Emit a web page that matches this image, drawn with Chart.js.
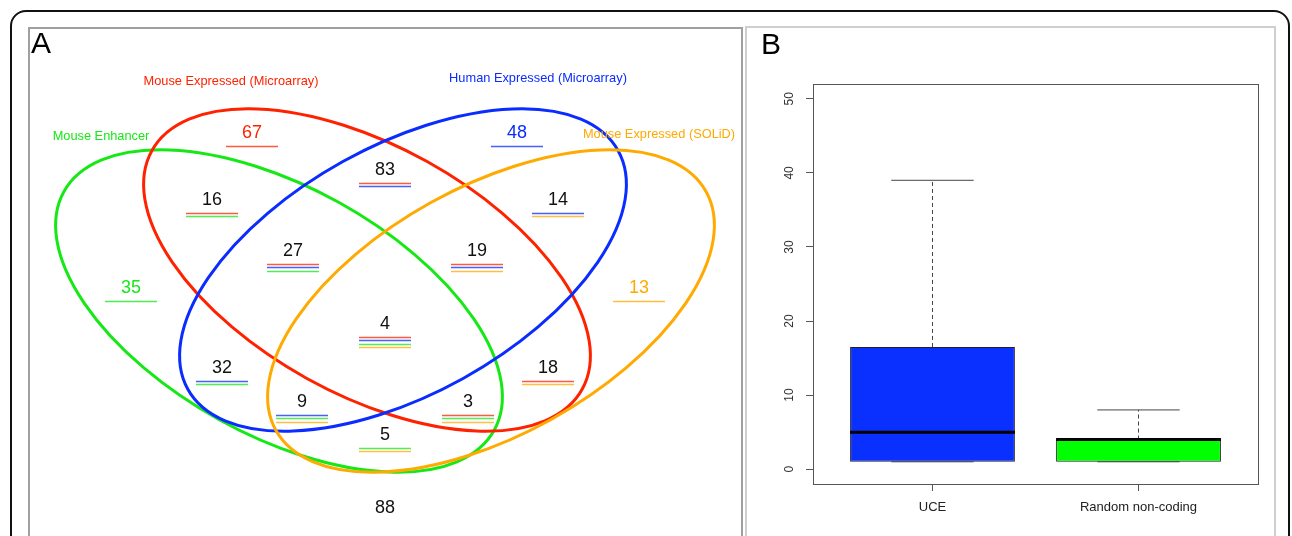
<!DOCTYPE html>
<html>
<head>
<meta charset="utf-8">
<script src="https://cdn.jsdelivr.net/npm/chart.js@4.4.0/dist/chart.umd.min.js"></script>
<style>
  html, body { margin: 0; padding: 0; background: #fff; width: 1292px; height: 536px; overflow: hidden; }
  #frame { position: absolute; left: 10px; top: 10px; width: 1280px; height: 620px; border: 2px solid #111; border-radius: 16px; box-sizing: border-box; }
  #panelA { position: absolute; left: 28px; top: 27px; width: 715px; height: 620px; border: 2px solid #a0a0a0; box-sizing: border-box; }
  #panelB { position: absolute; left: 745px; top: 26px; width: 531px; height: 620px; border: 2px solid #cfcfcf; box-sizing: border-box; }
  canvas { position: absolute; }
  #vennCanvas { left: 30px; top: 29px; }
  #boxCanvas { left: 747px; top: 29px; }
</style>
</head>
<body>
<div id="frame"></div>
<div id="panelA"></div>
<div id="panelB"></div>
<canvas id="vennCanvas" width="711" height="507"></canvas>
<canvas id="boxCanvas" width="527" height="507"></canvas>
<script>
// ---- panel B data (box plot) ----
const categories = ['UCE', 'Random non-coding'];
const whiskerLow = [1, 1];
const q1 = [1, 1];
const medians = [5, 4];
const q3 = [16.5, 4];
const whiskerHigh = [39, 8];
const yTicks = [0, 10, 20, 30, 40, 50];

// ---- panel A data (venn counts) ----
const setKeys = ['R', 'B', 'G', 'O'];
const setNames = ['Mouse Expressed (Microarray)', 'Human Expressed (Microarray)', 'Mouse Enhancer', 'Mouse Expressed (SOLiD)'];
const regionSets = ['R', 'B', 'G', 'O', 'RB', 'RG', 'BO', 'RBG', 'RBO', 'RBGO', 'BG', 'RO', 'BGO', 'RGO', 'GO', ''];
const regionCounts = [67, 48, 35, 13, 83, 16, 14, 27, 19, 4, 32, 18, 9, 3, 5, 88];

// layout of the venn, in page pixels (label centre x, text baseline y)
const regionX = [252, 517, 131, 639, 385, 212, 558, 293, 477, 385, 222, 548, 302, 468, 385, 385];
const regionY = [138, 138, 293, 293, 175, 205, 205, 256, 256, 329, 373, 373, 407, 407, 440, 513];
const setLabelPos = [[231, 85], [538, 82], [101, 140], [659, 138]];
const ellipses = [
  { key: 'G', cx: 279, cy: 311, rot: 29 },
  { key: 'R', cx: 367, cy: 270, rot: 29 },
  { key: 'B', cx: 403, cy: 270, rot: -29 },
  { key: 'O', cx: 491, cy: 311, rot: -29 }
];
const semiMajor = 246, semiMinor = 124;

const setColors = { R: '#ff2200', B: '#0a2cff', G: '#16e816', O: '#ffaa00' };
const boxColors = ['#0a30ff', '#00ff00'];
const FONT = "'Liberation Sans', Arial, sans-serif";

Chart.defaults.font.family = FONT;
Chart.defaults.animation = false;

// ---------------- Panel A ----------------
const vennPlugin = {
  id: 'venn',
  beforeDatasetsDraw(chart) {
    const { ctx, scales: { x, y } } = chart;
    ctx.save();
    ctx.fillStyle = '#000';
    ctx.font = '30px ' + FONT;
    ctx.textAlign = 'left';
    ctx.textBaseline = 'alphabetic';
    ctx.fillText('A', x.getPixelForValue(31), y.getPixelForValue(53));

    ellipses.forEach(e => {
      const px = x.getPixelForValue(e.cx), py = y.getPixelForValue(e.cy);
      const rx = x.getPixelForValue(e.cx + semiMajor) - px;
      const ry = y.getPixelForValue(e.cy + semiMinor) - py;
      ctx.beginPath();
      ctx.ellipse(px, py, Math.abs(rx), Math.abs(ry), e.rot * Math.PI / 180, 0, Math.PI * 2);
      ctx.strokeStyle = setColors[e.key];
      ctx.lineWidth = 3;
      ctx.stroke();
    });

    ctx.font = '12.8px ' + FONT;
    ctx.textAlign = 'center';
    setNames.forEach((name, i) => {
      ctx.fillStyle = setColors[setKeys[i]];
      ctx.fillText(name, x.getPixelForValue(setLabelPos[i][0]), y.getPixelForValue(setLabelPos[i][1]));
    });
    ctx.restore();
  },
  afterDatasetsDraw(chart) {
    const { ctx } = chart;
    const meta = chart.getDatasetMeta(0);
    ctx.save();
    ctx.font = '18px ' + FONT;
    ctx.textAlign = 'center';
    ctx.textBaseline = 'alphabetic';
    meta.data.forEach((pt, i) => {
      const keys = regionSets[i].split('');
      ctx.fillStyle = keys.length === 1 ? setColors[keys[0]] : '#111';
      ctx.fillText(String(regionCounts[i]), pt.x, pt.y);
      keys.forEach((k, j) => {
        const ly = Math.round(pt.y + 7.5 + j * 3.6) + 0.5;
        ctx.beginPath();
        ctx.moveTo(pt.x - 26, ly);
        ctx.lineTo(pt.x + 26, ly);
        ctx.strokeStyle = setColors[k];
        ctx.globalAlpha = 0.75;
        ctx.lineWidth = 1.3;
        ctx.stroke();
        ctx.globalAlpha = 1;
      });
    });
    ctx.restore();
  }
};

new Chart(document.getElementById('vennCanvas'), {
  type: 'scatter',
  data: {
    datasets: [{
      label: 'regions',
      data: regionCounts.map((c, i) => ({ x: regionX[i], y: regionY[i] })),
      pointRadius: 0,
      pointBorderWidth: 0,
      pointHoverRadius: 0
    }]
  },
  options: {
    responsive: false,
    layout: { padding: 0, autoPadding: false },
    plugins: { legend: { display: false }, tooltip: { enabled: false } },
    scales: {
      x: { type: 'linear', display: false, min: 30, max: 741 },
      y: { type: 'linear', display: false, min: 29, max: 536, reverse: true }
    }
  },
  plugins: [vennPlugin]
});

// ---------------- Panel B ----------------
const whiskerPts = [], capPts = [], medianPts = [];
categories.forEach((c, i) => {
  const cx = i + 1;
  whiskerPts.push({ x: cx, y: q3[i] }, { x: cx, y: whiskerHigh[i] }, { x: cx, y: null });
  whiskerPts.push({ x: cx, y: q1[i] }, { x: cx, y: whiskerLow[i] }, { x: cx, y: null });
  capPts.push({ x: cx - 0.2, y: whiskerHigh[i] }, { x: cx + 0.2, y: whiskerHigh[i] }, { x: cx, y: null });
  capPts.push({ x: cx - 0.2, y: whiskerLow[i] }, { x: cx + 0.2, y: whiskerLow[i] }, { x: cx, y: null });
  medianPts.push({ x: cx - 0.4, y: medians[i] }, { x: cx + 0.4, y: medians[i] }, { x: cx, y: null });
});

const boxFrame = {
  id: 'boxFrame',
  afterDraw(chart) {
    const { ctx, chartArea: a, scales: { y } } = chart;
    ctx.save();
    ctx.strokeStyle = '#555';
    ctx.lineWidth = 1;
    ctx.strokeRect(Math.round(a.left) + 0.5, Math.round(a.top) + 0.5, Math.round(a.right - a.left), Math.round(a.bottom - a.top));
    ctx.fillStyle = '#333';
    ctx.font = '12px ' + FONT;
    ctx.textAlign = 'center';
    ctx.textBaseline = 'middle';
    yTicks.forEach(v => {
      ctx.save();
      ctx.translate(a.left - 23, y.getPixelForValue(v));
      ctx.rotate(-Math.PI / 2);
      ctx.fillText(String(v), 0, 0);
      ctx.restore();
    });
    ctx.fillStyle = '#000';
    ctx.font = '30px ' + FONT;
    ctx.textAlign = 'left';
    ctx.textBaseline = 'alphabetic';
    ctx.fillText('B', 14, 25);
    ctx.restore();
  }
};

new Chart(document.getElementById('boxCanvas'), {
  type: 'bar',
  data: {
    datasets: [
      { type: 'line', data: medianPts, borderColor: '#000', borderWidth: 3, pointRadius: 0, spanGaps: false, order: 0 },
      { type: 'line', data: capPts, borderColor: '#444', borderWidth: 1, pointRadius: 0, spanGaps: false, order: 0 },
      { type: 'line', data: whiskerPts, borderColor: '#444', borderWidth: 1, borderDash: [4, 3], pointRadius: 0, spanGaps: false, order: 0 },
      {
        type: 'bar',
        data: categories.map((c, i) => ({ x: i + 1, y: [q1[i], q3[i]] })),
        backgroundColor: boxColors,
        borderColor: '#222',
        borderWidth: 1,
        borderSkipped: false,
        barPercentage: 0.8,
        categoryPercentage: 1,
        order: 1
      }
    ]
  },
  options: {
    responsive: false,
    layout: { padding: { top: 55, right: 16, left: 0, bottom: 0 } },
    plugins: { legend: { display: false }, tooltip: { enabled: false } },
    scales: {
      x: {
        type: 'linear', min: 0.42, max: 2.58, offset: false,
        afterBuildTicks: s => { s.ticks = categories.map((c, i) => ({ value: i + 1 })); },
        afterFit: s => { s.height = 52; },
        ticks: { callback: v => categories[v - 1], color: '#222', font: { size: 13 }, padding: 9, maxRotation: 0, autoSkip: false },
        grid: { drawOnChartArea: false, drawTicks: true, tickLength: 7, color: '#555', offset: false },
        border: { display: false }
      },
      y: {
        type: 'linear', min: -2, max: 52,
        afterBuildTicks: s => { s.ticks = yTicks.map(v => ({ value: v })); },
        afterFit: s => { s.width = 66; },
        ticks: { display: false },
        grid: { drawOnChartArea: false, drawTicks: true, tickLength: 7, color: '#555' },
        border: { display: false }
      }
    }
  },
  plugins: [boxFrame]
});
</script>
</body>
</html>
